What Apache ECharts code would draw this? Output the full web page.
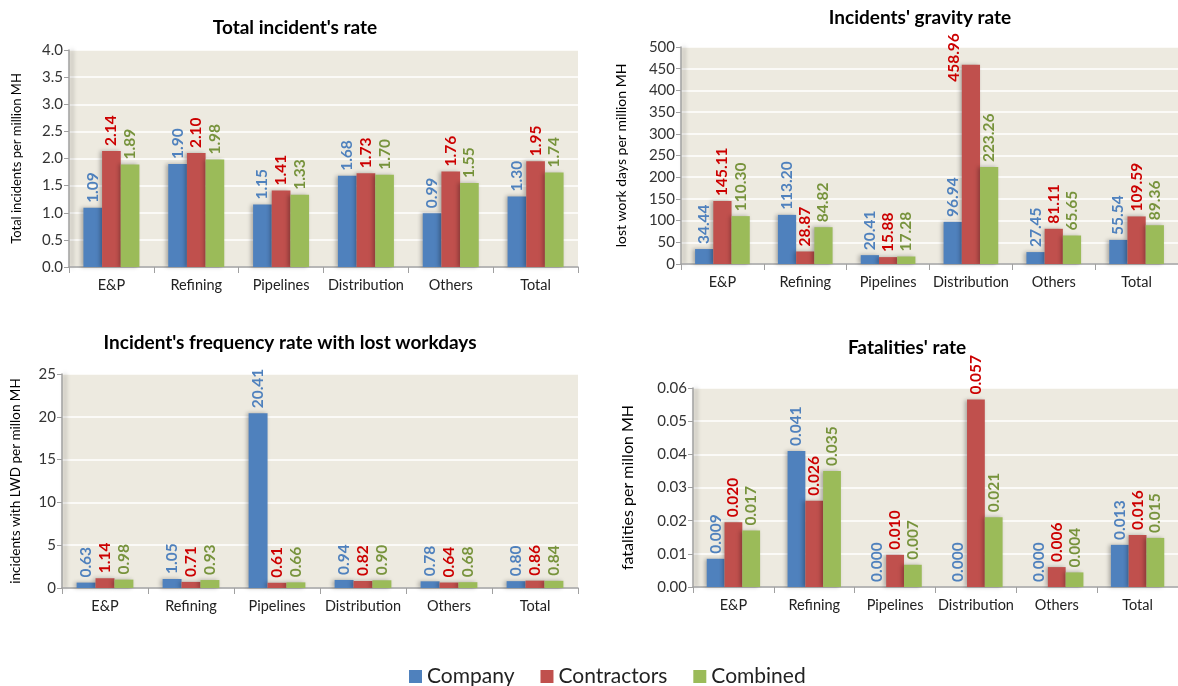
<!DOCTYPE html>
<html><head><meta charset="utf-8">
<script src="https://cdn.jsdelivr.net/npm/echarts@6/dist/echarts.min.js"></script>
<style>html,body{margin:0;padding:0;background:#fff}#c{width:1178px;height:686px}</style>
</head><body><div id="c"></div>
<script>
const categories = ['E&P','Refining','Pipelines','Distribution','Others','Total'];
const seriesNames = ['Company','Contractors','Combined'];

const totalCompany = [1.09,1.90,1.15,1.68,0.99,1.30];
const totalContractors = [2.14,2.10,1.41,1.73,1.76,1.95];
const totalCombined = [1.89,1.98,1.33,1.70,1.55,1.74];

const gravityCompany = [34.44,113.20,20.41,96.94,27.45,55.54];
const gravityContractors = [145.11,28.87,15.88,458.96,81.11,109.59];
const gravityCombined = [110.30,84.82,17.28,223.26,65.65,89.36];

const freqCompany = [0.63,1.05,20.41,0.94,0.78,0.80];
const freqContractors = [1.14,0.71,0.61,0.82,0.64,0.86];
const freqCombined = [0.98,0.93,0.66,0.90,0.68,0.84];

const fatalCompany = [0.0085,0.041,0.000,0.000,0.000,0.0127];
const fatalContractors = [0.0195,0.026,0.0097,0.0565,0.006,0.0157];
const fatalCombined = [0.017,0.035,0.0067,0.021,0.0044,0.0148];
const fatalLabels = [
  ['0.009','0.041','0.000','0.000','0.000','0.013'],
  ['0.020','0.026','0.010','0.057','0.006','0.016'],
  ['0.017','0.035','0.007','0.021','0.004','0.015']
];

const barColors = ['#4F81BD','#C0504D','#9BBB59'];
const labelColors = ['#4F81BD','#CC0000','#77933C'];
const FONT = 'Lato';

const grids = [
  {left:69, top:50, width:509, height:217},
  {left:681, top:47, width:504, height:217},
  {left:62, top:374, width:516, height:214},
  {left:693, top:388, width:491, height:199}
];
const yCfg = [
  {min:0,max:4,interval:0.5,dec:1,name:'Total incidents per million MH',gap:46,fs:13},
  {min:0,max:500,interval:50,dec:0,name:'lost work days per million MH',gap:53,fs:14},
  {min:0,max:25,interval:5,dec:0,name:'incidents with LWD per millon MH',gap:39,fs:13.5},
  {min:0,max:0.06,interval:0.01,dec:2,name:'fatalities per millon MH',gap:57,fs:16}
];
const dataSets = [
  [totalCompany,totalContractors,totalCombined],
  [gravityCompany,gravityContractors,gravityCombined],
  [freqCompany,freqContractors,freqCombined],
  [fatalCompany,fatalContractors,fatalCombined]
];
const labelDec = [2,2,2,3];

const titles = [
  {text:"Total incident's rate", left:290, top:13},
  {text:"Incidents' gravity rate", left:915, top:3},
  {text:"Incident's frequency rate with lost workdays", left:285, top:328},
  {text:"Fatalities' rate", left:902, top:333}
].map(t => ({text:t.text, left:t.left, top:t.top, textAlign:'center',
  textStyle:{fontFamily:FONT, fontSize:19, fontWeight:'bold', color:'#000'}}));

const xAxes = grids.map((g,i) => ({
  type:'category', gridIndex:i, data:categories,
  axisLine:{lineStyle:{color:'#A0A0A0', width:1.5}},
  axisTick:{show:true, length:6, lineStyle:{color:'#A0A0A0'}},
  axisLabel:{interval:0, fontFamily:FONT, fontSize:14.5, color:'#222', margin:11}
}));
const yAxes = yCfg.map((c,i) => ({
  type:'value', gridIndex:i, min:c.min, max:c.max, interval:c.interval,
  name:c.name, nameLocation:'middle', nameGap:c.gap, nameRotate:90,
  nameTextStyle:{fontFamily:FONT, fontSize:c.fs, color:'#000'},
  axisLine:{show:true, lineStyle:{color:'#A0A0A0', width:1.5, shadowColor:'rgba(0,0,0,0.35)', shadowBlur:4, shadowOffsetX:3}},
  axisTick:{show:true, length:5, lineStyle:{color:'#A0A0A0'}},
  splitLine:{show:true, lineStyle:{color:'#FFFFFF', width:1.5}},
  axisLabel:{fontFamily:FONT, fontSize:15, color:'#333', margin:6,
    formatter: v => v.toFixed(c.dec)}
}));

const series = [];
dataSets.forEach((ds, gi) => {
  ds.forEach((vals, si) => {
    const data = vals.map((v, k) => {
      // Excel nudged this one label beside its bar
      if (gi === 1 && si === 1 && k === 3) return {value:v, label:{offset:[-22, -17]}};
      return v;
    });
    series.push({
      name: seriesNames[si], type:'bar', xAxisIndex:gi, yAxisIndex:gi,
      data: data, barGap:'0%', barCategoryGap:'34%',
      itemStyle:{color:barColors[si], shadowColor:'rgba(0,0,0,0.28)', shadowBlur:4, shadowOffsetX:-2},
      label:{show:true, position:'top', rotate:90, align:'left', verticalAlign:'middle', distance:5,
        fontFamily:FONT, fontSize:15.5, fontWeight:'bold', color:labelColors[si],
        formatter: p => gi === 3 ? fatalLabels[si][p.dataIndex] : p.value.toFixed(labelDec[gi])}
    });
  });
});

const chart = echarts.init(document.getElementById('c'), null, {renderer:'canvas'});
chart.setOption({
  animation:false,
  backgroundColor:'#FFFFFF',
  title: titles,
  legend:{data:seriesNames, top:661, left:404, itemWidth:13, itemHeight:13, itemGap:26,
    icon:'rect', textStyle:{fontFamily:FONT, fontSize:21, color:'#222'}},
  grid: grids.map(g => Object.assign({show:true, backgroundColor:'#EDEAE0', borderWidth:0, containLabel:false}, g)),
  xAxis: xAxes,
  yAxis: yAxes,
  series: series
});
</script></body></html>
